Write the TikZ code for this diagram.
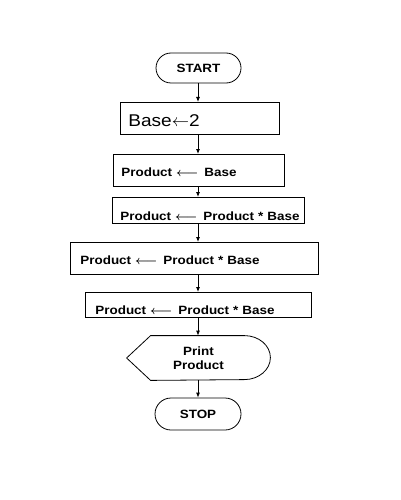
\documentclass[tikz,border=0pt]{standalone}
\usepackage{fontspec}
\setmainfont{Liberation Sans}[FakeStretch=1.12]
\usetikzlibrary{calc,arrows.meta}

\begin{document}
\begin{tikzpicture}[x=1pt, y=-1pt, line width=0.8pt, >={Latex[length=5pt,width=4pt]},
    term/.style={draw, rounded corners=15pt, minimum height=30pt, inner sep=0pt,
        font=\fontsize{12}{14}\selectfont\bfseries},
    box/.style={draw, anchor=north west, align=left, inner xsep=8pt, inner ysep=0pt,
        text depth=0pt, text height=12pt, font=\fontsize{12}{14}\selectfont\bfseries\boldmath,
        execute at begin node=\hbox\bgroup, execute at end node=\egroup}]
\useasboundingbox (0,0) rectangle (400,500);

%Nodes
\node[term, minimum width=85pt]     (start) at (198.5,68)   {START};
\node[box, text width=143pt, minimum height=32pt, text height=15.5pt,
    font=\fontsize{17}{20}\selectfont]  (init)  at (120,102)    {Base$\leftarrow$2};
\node[box, text width=155pt, minimum height=32pt]   (prod1) at (113,154)
    {Product $\longleftarrow$\enspace Base};
\node[box, text width=176pt, minimum height=26pt, text height=20pt] (prod2) at (112,197)
    {Product $\longleftarrow$\enspace Product * Base};
\node[box, inner xsep=10pt, text width=228pt, minimum height=32pt] (prod3) at (70,242)
    {Product $\longleftarrow$\enspace Product * Base};
\node[box, inner xsep=10pt, text width=206pt, minimum height=25pt, text height=20pt] (prod4) at (85,292)
    {Product $\longleftarrow$\enspace Product * Base};
\node[minimum width=143pt, minimum height=44pt, align=center,
    font=\fontsize{12}{14}\selectfont\bfseries] (print) at (198.5,358) {Print\\Product};
\node[term, minimum width=86pt, minimum height=32pt, rounded corners=16pt] (stop) at (198,414) {STOP};

%Display outline
\draw (print.west) -- ($(print.north west)+(24,0)$)
    -- ($(print.north east)+(-26,0)$) arc[start angle=-90, end angle=90, x radius=26, y radius=22]
    -- ($(print.south west)+(24,0)$) -- cycle;

%Lines
\coordinate (axis) at (198,0);
\foreach \a/\b in {start/init, init/prod1, prod1/prod2, prod2/prod3, prod3/prod4, prod4/print, print/stop}
    \draw[->] (\a.south -| axis) -- (\b.north -| axis);
\end{tikzpicture}
\end{document}
